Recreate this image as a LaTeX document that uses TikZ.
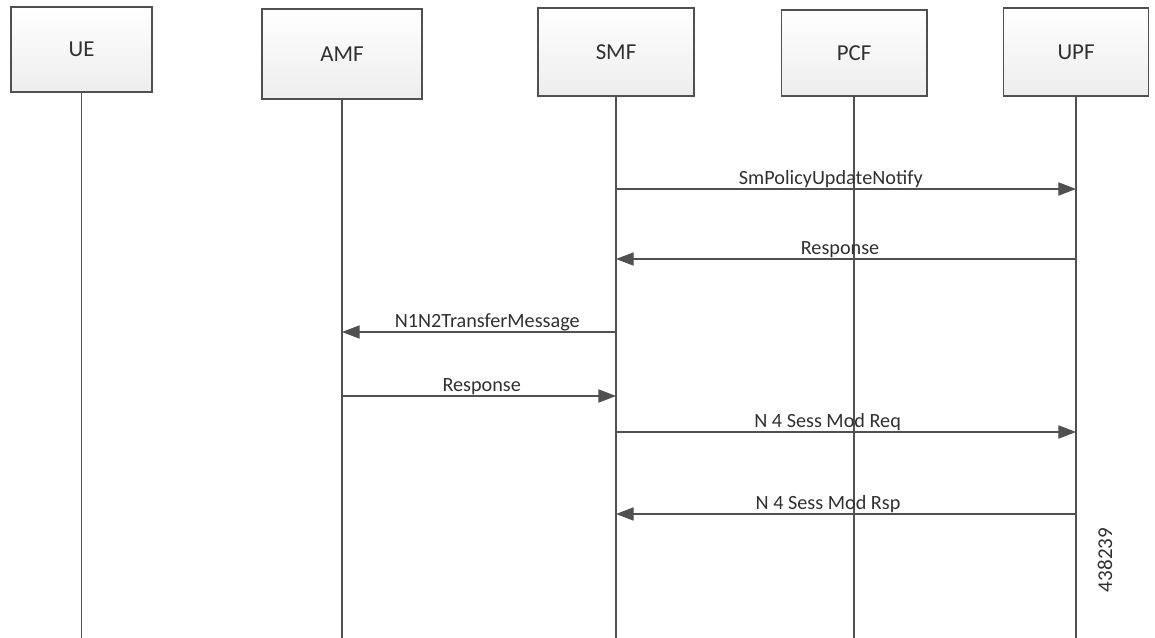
\documentclass[tikz,border=0pt]{standalone}
\usepackage{fontspec}
\setmainfont{Carlito}
\usetikzlibrary{arrows.meta}
\definecolor{linegray}{HTML}{505050}
\definecolor{textgray}{HTML}{303030}
\begin{document}
\begin{tikzpicture}[x=0.02cm, y=-0.02cm,
    actor/.style={draw=linegray, line width=0.6pt, top color=white, bottom color=gray!14,
      text=textgray, font=\fontsize{13}{15}\selectfont, inner sep=0pt},
    life/.style={draw=linegray, line width=0.6pt},
    msg/.style={draw=linegray, line width=0.6pt, -{Triangle[length=10pt, width=7.5pt]}},
    lbl/.style={anchor=base, yshift=2.3pt, text=textgray, inner sep=0pt,
      font=\fontsize{11.5}{13}\selectfont}]

  % bounding box
  \useasboundingbox (0,0) rectangle (1155,638);

  % kopjes
  \node[actor, minimum width=2.82cm, minimum height=1.70cm] (ue)  at (81.5,49.5) {UE};
  \node[actor, minimum width=3.20cm, minimum height=1.80cm] (amf) at (342,54)   {AMF};
  \node[actor, minimum width=3.12cm, minimum height=1.76cm] (smf) at (616,52)   {SMF};
  \node[actor, minimum width=2.92cm, minimum height=1.72cm] (pcf) at (854,53)   {PCF};
  \node[actor, minimum width=2.90cm, minimum height=1.76cm] (upf) at (1076,52)  {UPF};

  % levenslijnen
  \foreach \n in {ue,amf,smf,pcf,upf}
    \draw[life] (\n.south) -- (\n |- 0,638);

  % SMF naar UPF
  \draw[msg] (smf |- 0,189) -- (upf |- 0,189)
    node[lbl, pos=.467] {SmPolicyUpdateNotify};

  % UPF naar SMF
  \draw[msg] (upf |- 0,259) -- (smf |- 0,259)
    node[lbl, pos=.513] {Response};

  % SMF naar AMF
  \draw[msg] (smf |- 0,332) -- (amf |- 0,332)
    node[lbl, pos=.47] {N1N2TransferMessage};

  % AMF naar SMF
  \draw[msg] (amf |- 0,396) -- (smf |- 0,396)
    node[lbl, pos=.51] {Response};

  % N4 verzoek
  \draw[msg] (smf |- 0,432) -- (upf |- 0,432)
    node[lbl, pos=.46] {N 4 Sess Mod Req};

  % N4 antwoord
  \draw[msg] (upf |- 0,514) -- (smf |- 0,514)
    node[lbl, pos=.539] {N 4 Sess Mod Rsp};

  % nummer
  \node[rotate=90, text=textgray, inner sep=0pt, font=\fontsize{12}{14}\selectfont]
    (nr) at (1105,560) {438239};

\end{tikzpicture}
\end{document}
